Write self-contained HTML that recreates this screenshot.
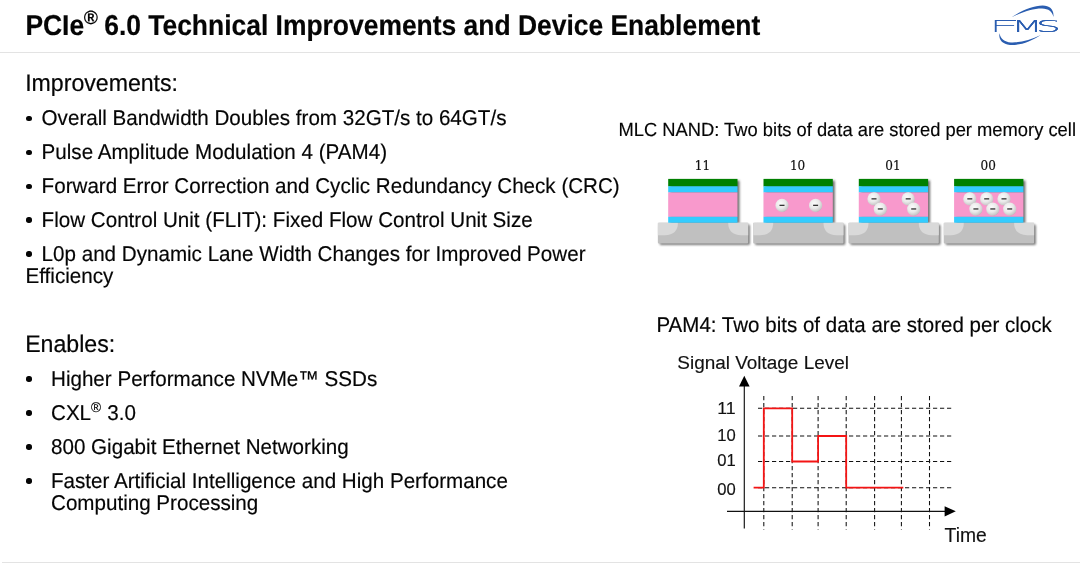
<!DOCTYPE html>
<html lang="en">
<head>
<meta charset="utf-8">
<title>PCIe 6.0 Technical Improvements and Device Enablement</title>
<style>
html,body{margin:0;padding:0;background:#fff;}
body{width:1080px;height:564px;position:relative;overflow:hidden;font-family:"Liberation Sans",Arial,Helvetica,sans-serif;color:#000;}
h1,h2,p,ul,li{margin:0;padding:0;font-weight:normal;list-style:none;}
.t{position:absolute;left:0;top:0;white-space:nowrap;font-size:100px;line-height:100px;transform-origin:0 0;color:#050505;text-rendering:geometricPrecision;-webkit-text-stroke:0.8px #050505;}
.b{-webkit-text-stroke:0.6px #050505;}
.b{font-weight:bold;}
.dot{position:absolute;width:5.3px;height:5.3px;border-radius:50%;background:#050505;}
.rule{position:absolute;left:0;height:1px;background:#e3e3e3;}
sup.r{display:inline-block;font-size:73%;line-height:0;vertical-align:baseline;position:relative;top:-0.49em;left:0.02em;font-weight:bold;margin:0 -0.04em 0 -0.04em;transform:scaleY(0.92);transform-origin:50% 0;}
sup.r2{font-size:66%;line-height:0;vertical-align:baseline;position:relative;top:-0.57em;font-weight:normal;margin-right:0.03em;}
svg{position:absolute;left:0;top:0;overflow:visible;}
svg text{font-family:"Liberation Sans",Arial,Helvetica,sans-serif;}
svg .fms text{font-family:"DejaVu Sans","Liberation Sans",sans-serif;font-weight:200;font-size:100px;}
svg text.bits{font-family:"DejaVu Serif","Liberation Serif",serif;}
</style>
</head>
<body>

<div class="rule" style="top:52px;width:1080px;"></div>
<div class="rule" style="top:562px;left:2px;width:1078px;"></div>
<h1 class="t b" style="transform:matrix(0.2643,0,0,0.2868,25.40,10.87)">PCIe<sup class="r">®</sup> 6.0 Technical Improvements and Device Enablement</h1>
<h2 class="t " style="transform:matrix(0.2310,0,0,0.2402,25.20,70.83)">Improvements:</h2>
<ul>
<li>
<i class="dot" style="left:26.40px;top:115.85px"></i>
<span class="t " style="transform:matrix(0.2060,0,0,0.2142,41.60,107.04)">Overall Bandwidth Doubles from 32GT/s to 64GT/s</span>
</li>
<li>
<i class="dot" style="left:26.40px;top:149.70px"></i>
<span class="t " style="transform:matrix(0.2060,0,0,0.2142,41.60,141.04)">Pulse Amplitude Modulation 4 (PAM4)</span>
</li>
<li>
<i class="dot" style="left:26.40px;top:183.55px"></i>
<span class="t " style="transform:matrix(0.2060,0,0,0.2142,41.60,175.04)">Forward Error Correction and Cyclic Redundancy Check (CRC)</span>
</li>
<li>
<i class="dot" style="left:26.40px;top:217.45px"></i>
<span class="t " style="transform:matrix(0.2060,0,0,0.2142,41.60,209.04)">Flow Control Unit (FLIT): Fixed Flow Control Unit Size</span>
</li>
<li>
<i class="dot" style="left:26.40px;top:251.25px"></i>
<span class="t " style="transform:matrix(0.2060,0,0,0.2142,41.60,243.04)">L0p and Dynamic Lane Width Changes for Improved Power</span>
<span class="t " style="transform:matrix(0.2060,0,0,0.2142,25.50,265.04)">Efficiency</span>
</li>
</ul>
<h2 class="t " style="transform:matrix(0.2310,0,0,0.2402,25.20,331.83)">Enables:</h2>
<ul>
<li>
<i class="dot" style="left:26.40px;top:376.45px"></i>
<span class="t " style="transform:matrix(0.2060,0,0,0.2142,51.00,368.04)">Higher Performance NVMe™ SSDs</span>
</li>
<li>
<i class="dot" style="left:26.40px;top:410.35px"></i>
<span class="t " style="transform:matrix(0.2060,0,0,0.2142,51.00,402.04)">CXL<sup class="r2">®</sup> 3.0</span>
</li>
<li>
<i class="dot" style="left:26.40px;top:444.25px"></i>
<span class="t " style="transform:matrix(0.2060,0,0,0.2142,51.00,436.04)">800 Gigabit Ethernet Networking</span>
</li>
<li>
<i class="dot" style="left:26.40px;top:478.25px"></i>
<span class="t " style="transform:matrix(0.2060,0,0,0.2142,51.00,470.04)">Faster Artificial Intelligence and High Performance</span>
<span class="t " style="transform:matrix(0.2060,0,0,0.2142,51.00,492.04)">Computing Processing</span>
</li>
</ul>
<p class="t " style="transform:matrix(0.1835,0,0,0.1908,618.40,120.03)">MLC NAND: Two bits of data are stored per memory cell</p>
<p class="t " style="transform:matrix(0.2054,0,0,0.2136,656.40,314.09)">PAM4: Two bits of data are stored per clock</p>
<svg width="1080" height="564" viewBox="0 0 1080 564" role="img" aria-label="FMS logo, MLC NAND cell diagram and PAM4 signal chart">
<defs>
<radialGradient id="el" cx="0.4" cy="0.35" r="0.75">
<stop offset="0" stop-color="#fbfbfb"/><stop offset="0.5" stop-color="#e9e9e9"/><stop offset="0.85" stop-color="#c6c6c6"/><stop offset="1" stop-color="#9a9a9a"/>
</radialGradient>
<filter id="sh" x="-10%" y="-10%" width="130%" height="140%"><feGaussianBlur stdDeviation="0.8"/></filter>
<filter id="thick" x="-5%" y="-20%" width="110%" height="140%" color-interpolation-filters="sRGB">
<feOffset in="SourceGraphic" dy="-0.4" result="a"/>
<feOffset in="SourceGraphic" dy="0.4" result="b"/>
<feMerge><feMergeNode in="a"/><feMergeNode in="b"/><feMergeNode in="SourceGraphic"/></feMerge>
</filter>
</defs>
<g id="logo" fill="#2a5db0" aria-label="FMS">
<path d="M1011.6 17.3 C1021.5 10.4 1033.5 5.7 1042.6 5.6 C1050 5.6 1054.2 10 1053.4 16.9 C1052.4 11.8 1048.6 8.6 1042 8.5 C1033.5 8.4 1022 12 1011.6 17.3 Z"/>
<path d="M999.5 33.2 C998.4 38.6 1001.6 44.2 1010 45 C1019 45.6 1031.5 41.4 1040.8 34.9 C1030.5 39.8 1019.5 42.8 1011 42.4 C1004.4 41.9 1000.5 38.6 999.5 33.2 Z"/>
<clipPath id="fclip"><rect x="994.8" y="0" width="80" height="50"/></clipPath>
<g filter="url(#thick)" class="fms" clip-path="url(#fclip)">
<text transform="translate(0 31.9) scale(1 0.153)"><tspan x="985.82" textLength="35.37" lengthAdjust="spacingAndGlyphs">F</tspan><tspan x="1011.62" textLength="31.06" lengthAdjust="spacingAndGlyphs">M</tspan><tspan x="1035.84" textLength="25.39" lengthAdjust="spacingAndGlyphs">S</tspan></text>
</g>
</g>
<rect x="659.7" y="224.5" width="90.3" height="20.6" rx="1.5" fill="#444" opacity="0.7" filter="url(#sh)"/>
<rect x="670.2" y="180.6" width="69.3" height="43" fill="#333" opacity="0.7" filter="url(#sh)"/>
<rect x="657.9" y="222.7" width="90.3" height="20.8" rx="1" fill="#c0c0c0"/>
<path d="M657.9 222.7 h20 q0 12 -13 12.5 h-7 z" fill="#d9d9d9"/>
<path d="M748.2 222.7 h-20 q0 12 13 12.5 h7 z" fill="#d9d9d9"/>
<rect x="668.2" y="178.9" width="69.3" height="7.5" fill="#008000"/>
<rect x="668.2" y="186.3" width="69.3" height="6.2" fill="#33ccff"/>
<rect x="668.2" y="192.4" width="69.3" height="24.5" fill="#f899cc"/>
<rect x="668.2" y="216.8" width="69.3" height="5.9" fill="#33ccff"/>
<text x="702.4" y="170" text-anchor="middle" font-size="12" class="bits" fill="#111" stroke="#111" stroke-width="0.2">11</text>
<rect x="755.0" y="224.5" width="90.3" height="20.6" rx="1.5" fill="#444" opacity="0.7" filter="url(#sh)"/>
<rect x="765.5" y="180.6" width="69.3" height="43" fill="#333" opacity="0.7" filter="url(#sh)"/>
<rect x="753.2" y="222.7" width="90.3" height="20.8" rx="1" fill="#c0c0c0"/>
<path d="M753.2 222.7 h20 q0 12 -13 12.5 h-7 z" fill="#d9d9d9"/>
<path d="M843.5 222.7 h-20 q0 12 13 12.5 h7 z" fill="#d9d9d9"/>
<rect x="763.5" y="178.9" width="69.3" height="7.5" fill="#008000"/>
<rect x="763.5" y="186.3" width="69.3" height="6.2" fill="#33ccff"/>
<rect x="763.5" y="192.4" width="69.3" height="24.5" fill="#f899cc"/>
<rect x="763.5" y="216.8" width="69.3" height="5.9" fill="#33ccff"/>
<circle cx="782.0" cy="205.4" r="6.6" fill="url(#el)"/>
<rect x="779.5" y="204.7" width="5" height="1.3" fill="#333"/>
<circle cx="815.6" cy="205.4" r="6.6" fill="url(#el)"/>
<rect x="813.1" y="204.7" width="5" height="1.3" fill="#333"/>
<text x="797.6" y="170" text-anchor="middle" font-size="12" class="bits" fill="#111" stroke="#111" stroke-width="0.2">10</text>
<rect x="850.3" y="224.5" width="90.3" height="20.6" rx="1.5" fill="#444" opacity="0.7" filter="url(#sh)"/>
<rect x="860.8" y="180.6" width="69.3" height="43" fill="#333" opacity="0.7" filter="url(#sh)"/>
<rect x="848.5" y="222.7" width="90.3" height="20.8" rx="1" fill="#c0c0c0"/>
<path d="M848.5 222.7 h20 q0 12 -13 12.5 h-7 z" fill="#d9d9d9"/>
<path d="M938.8 222.7 h-20 q0 12 13 12.5 h7 z" fill="#d9d9d9"/>
<rect x="858.8" y="178.9" width="69.3" height="7.5" fill="#008000"/>
<rect x="858.8" y="186.3" width="69.3" height="6.2" fill="#33ccff"/>
<rect x="858.8" y="192.4" width="69.3" height="24.5" fill="#f899cc"/>
<rect x="858.8" y="216.8" width="69.3" height="5.9" fill="#33ccff"/>
<circle cx="874.0" cy="198.9" r="6.6" fill="url(#el)"/>
<rect x="871.5" y="198.2" width="5" height="1.3" fill="#333"/>
<circle cx="880.3" cy="209.1" r="6.6" fill="url(#el)"/>
<rect x="877.8" y="208.3" width="5" height="1.3" fill="#333"/>
<circle cx="908.2" cy="198.9" r="6.6" fill="url(#el)"/>
<rect x="905.7" y="198.2" width="5" height="1.3" fill="#333"/>
<circle cx="913.7" cy="209.1" r="6.6" fill="url(#el)"/>
<rect x="911.2" y="208.3" width="5" height="1.3" fill="#333"/>
<text x="892.9" y="170" text-anchor="middle" font-size="12" class="bits" fill="#111" stroke="#111" stroke-width="0.2">01</text>
<rect x="945.6" y="224.5" width="90.3" height="20.6" rx="1.5" fill="#444" opacity="0.7" filter="url(#sh)"/>
<rect x="956.1" y="180.6" width="69.3" height="43" fill="#333" opacity="0.7" filter="url(#sh)"/>
<rect x="943.8" y="222.7" width="90.3" height="20.8" rx="1" fill="#c0c0c0"/>
<path d="M943.8 222.7 h20 q0 12 -13 12.5 h-7 z" fill="#d9d9d9"/>
<path d="M1034.1 222.7 h-20 q0 12 13 12.5 h7 z" fill="#d9d9d9"/>
<rect x="954.1" y="178.9" width="69.3" height="7.5" fill="#008000"/>
<rect x="954.1" y="186.3" width="69.3" height="6.2" fill="#33ccff"/>
<rect x="954.1" y="192.4" width="69.3" height="24.5" fill="#f899cc"/>
<rect x="954.1" y="216.8" width="69.3" height="5.9" fill="#33ccff"/>
<circle cx="969.8" cy="198.9" r="6.6" fill="url(#el)"/>
<rect x="967.3" y="198.2" width="5" height="1.3" fill="#333"/>
<circle cx="986.7" cy="198.9" r="6.6" fill="url(#el)"/>
<rect x="984.2" y="198.2" width="5" height="1.3" fill="#333"/>
<circle cx="1004.0" cy="198.9" r="6.6" fill="url(#el)"/>
<rect x="1001.5" y="198.2" width="5" height="1.3" fill="#333"/>
<circle cx="975.9" cy="209.1" r="6.6" fill="url(#el)"/>
<rect x="973.4" y="208.3" width="5" height="1.3" fill="#333"/>
<circle cx="992.8" cy="209.1" r="6.6" fill="url(#el)"/>
<rect x="990.3" y="208.3" width="5" height="1.3" fill="#333"/>
<circle cx="1009.7" cy="209.1" r="6.6" fill="url(#el)"/>
<rect x="1007.2" y="208.3" width="5" height="1.3" fill="#333"/>
<text x="988.2" y="170" text-anchor="middle" font-size="12" class="bits" fill="#111" stroke="#111" stroke-width="0.2">00</text>
<line x1="763.8" y1="396" x2="763.8" y2="529.5" stroke="#111" stroke-width="1.05" stroke-dasharray="4.2 2.8"/>
<line x1="792.2" y1="396" x2="792.2" y2="529.5" stroke="#111" stroke-width="1.05" stroke-dasharray="4.2 2.8"/>
<line x1="818.1" y1="396" x2="818.1" y2="529.5" stroke="#111" stroke-width="1.05" stroke-dasharray="4.2 2.8"/>
<line x1="846.2" y1="396" x2="846.2" y2="529.5" stroke="#111" stroke-width="1.05" stroke-dasharray="4.2 2.8"/>
<line x1="874.6" y1="396" x2="874.6" y2="529.5" stroke="#111" stroke-width="1.05" stroke-dasharray="4.2 2.8"/>
<line x1="901.4" y1="396" x2="901.4" y2="529.5" stroke="#111" stroke-width="1.05" stroke-dasharray="4.2 2.8"/>
<line x1="929.5" y1="396" x2="929.5" y2="529.5" stroke="#111" stroke-width="1.05" stroke-dasharray="4.2 2.8"/>
<line x1="758" y1="408.3" x2="952" y2="408.3" stroke="#111" stroke-width="1.05" stroke-dasharray="4.2 2.8"/>
<line x1="758" y1="436.0" x2="952" y2="436.0" stroke="#111" stroke-width="1.05" stroke-dasharray="4.2 2.8"/>
<line x1="758" y1="461.5" x2="952" y2="461.5" stroke="#111" stroke-width="1.05" stroke-dasharray="4.2 2.8"/>
<line x1="758" y1="487.7" x2="952" y2="487.7" stroke="#111" stroke-width="1.05" stroke-dasharray="4.2 2.8"/>
<line x1="744.3" y1="386" x2="744.3" y2="528.4" stroke="#111" stroke-width="1.15"/>
<path d="M744.3 375.8 L749.6 386.6 L739 386.6 Z" fill="#000"/>
<line x1="727" y1="511.3" x2="946" y2="511.3" stroke="#111" stroke-width="1.15"/>
<path d="M955.8 511.3 L944.6 506.2 L944.6 516.4 Z" fill="#000"/>
<path d="M753.6 487.7 H763.8 V408.3 H792.2 V461.5 H818.1 V436 H846.2 V487.7 H903.3" fill="none" stroke="#f41414" stroke-width="1.8" stroke-linejoin="miter"/>
<text x="717.2" y="414.0" font-size="16.4" textLength="18.5" lengthAdjust="spacingAndGlyphs" fill="#111" stroke="#111" stroke-width="0.15">11</text>
<text x="717.2" y="440.9" font-size="16.4" textLength="18.5" lengthAdjust="spacingAndGlyphs" fill="#111" stroke="#111" stroke-width="0.15">10</text>
<text x="717.2" y="466.4" font-size="16.4" textLength="18.5" lengthAdjust="spacingAndGlyphs" fill="#111" stroke="#111" stroke-width="0.15">01</text>
<text x="717.2" y="494.9" font-size="16.4" textLength="18.5" lengthAdjust="spacingAndGlyphs" fill="#111" stroke="#111" stroke-width="0.15">00</text>
<text x="677.3" y="369.4" font-size="19.2" textLength="171.6" lengthAdjust="spacingAndGlyphs" fill="#111" stroke="#111" stroke-width="0.15">Signal Voltage Level</text>
<text x="944.6" y="542.0" font-size="19.6" textLength="42.2" lengthAdjust="spacingAndGlyphs" fill="#111" stroke="#111" stroke-width="0.15">Time</text>
</svg>
</body>
</html>
